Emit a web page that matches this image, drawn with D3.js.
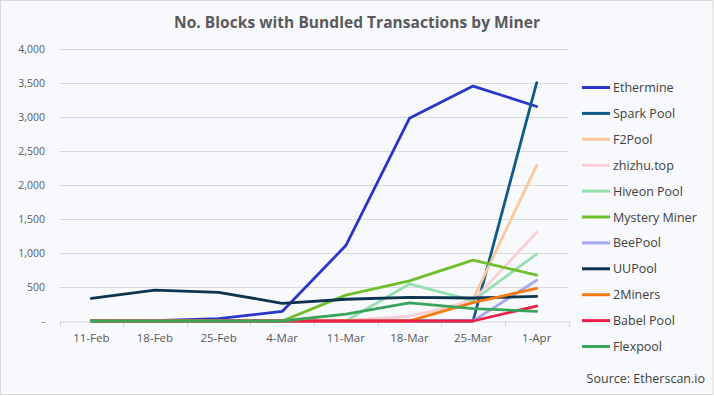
<!DOCTYPE html>
<html>
<head>
<meta charset="utf-8">
<script src="https://cdn.jsdelivr.net/npm/d3@7"></script>
<style>
  body { margin: 0; background: #fff; }
  svg text { font-family: "Open Sans", "Noto Sans", sans-serif; }
</style>
</head>
<body>
<div id="chart"></div>
<script>
// categories (weeks)
var weeks = ["11-Feb", "18-Feb", "25-Feb", "4-Mar", "11-Mar", "18-Mar", "25-Mar", "1-Apr"];

// series values
var ethermine    = [0, 5, 35, 140, 1110, 2980, 3455, 3155];
var sparkPool    = [0, 0, 0, 0, 0, 0, 0, 3505];
var f2Pool       = [0, 0, 0, 0, 0, 0, 320, 2290];
var zhizhu       = [0, 0, 0, 0, 10, 70, 300, 1305];
var hiveonPool   = [0, 0, 0, 0, 0, 545, 300, 985];
var mysteryMiner = [0, 0, 0, 0, 380, 590, 895, 675];
var beePool      = [0, 5, 0, 0, 0, 0, 0, 600];
var uuPool       = [333, 455, 422, 260, 320, 348, 338, 362];
var twoMiners    = [0, 0, 0, 0, 0, 0, 270, 480];
var babelPool    = [0, 0, 0, 0, 0, 0, 0, 220];
var flexpool     = [0, 0, 0, 0, 100, 265, 182, 142];

var yTicks = [0, 500, 1000, 1500, 2000, 2500, 3000, 3500, 4000];

var series = [
  {name: "Ethermine",     values: ethermine,    color: "#2b36c8"},
  {name: "Spark Pool",    values: sparkPool,    color: "#0e5a89"},
  {name: "F2Pool",        values: f2Pool,       color: "#fcc89b"},
  {name: "zhizhu.top",    values: zhizhu,       color: "#fccfd7"},
  {name: "Hiveon Pool",   values: hiveonPool,   color: "#96dfb0"},
  {name: "Mystery Miner", values: mysteryMiner, color: "#6fbf2b"},
  {name: "BeePool",       values: beePool,      color: "#a3a9ec"},
  {name: "UUPool",        values: uuPool,       color: "#0d3350"},
  {name: "2Miners",       values: twoMiners,    color: "#f57b12"},
  {name: "Babel Pool",    values: babelPool,    color: "#ee1f46"},
  {name: "Flexpool",      values: flexpool,     color: "#3ba45b"}
];

var W = 714, H = 396;
var plot = {left: 59.5, right: 568.5, top: 49, bottom: 321};

var svg = d3.select("#chart").append("svg")
  .attr("width", W)
  .attr("height", H);

// background + border
svg.append("rect")
  .attr("x", 0.5).attr("y", 0.5)
  .attr("width", W - 1.5).attr("height", H - 2)
  .attr("fill", "#f7f9fd")
  .attr("stroke", "#d9d9d9");

// title
svg.append("text")
  .attr("x", 357).attr("y", 28)
  .attr("text-anchor", "middle")
  .attr("font-size", "15.5px")
  .attr("font-weight", "bold")
  .attr("fill", "#595959")
  .attr("textLength", 366)
  .text("No. Blocks with Bundled Transactions by Miner");

var x = d3.scaleBand()
  .domain(weeks)
  .range([plot.left, plot.right]);

var y = d3.scaleLinear()
  .domain([0, 4000])
  .range([plot.bottom, plot.top]);

// gridlines
svg.append("g")
  .selectAll("line")
  .data(yTicks.filter(function(d) { return d > 0; }))
  .enter()
  .append("line")
  .attr("x1", plot.left).attr("x2", plot.right)
  .attr("y1", function(d) { return Math.round(y(d)) + 0.5; })
  .attr("y2", function(d) { return Math.round(y(d)) + 0.5; })
  .attr("stroke", "#d9d9d9")
  .attr("stroke-width", 1);

// y axis labels (accounting style, zero shown as dash)
svg.append("g")
  .selectAll("text")
  .data(yTicks)
  .enter()
  .append("text")
  .attr("x", 45)
  .attr("y", function(d) { return y(d) + 4; })
  .attr("text-anchor", "end")
  .attr("font-size", "10.5px")
  .attr("fill", "#595959")
  .text(function(d) { return d === 0 ? "-" : d3.format(",")(d); });

// x axis
var xAxis = svg.append("g")
  .attr("transform", "translate(0," + (Math.round(plot.bottom) + 0.5) + ")")
  .call(d3.axisBottom(x).tickSize(0).tickPadding(12));
xAxis.select(".domain").attr("stroke", "#d9d9d9");
xAxis.selectAll("text")
  .attr("font-size", "11.5px")
  .attr("fill", "#595959")
  .attr("font-family", "\"Open Sans\", sans-serif");

// category tick marks on the band edges
svg.append("g")
  .selectAll("line")
  .data(weeks.concat(["end"]))
  .enter()
  .append("line")
  .attr("x1", function(d, i) { return Math.round(plot.left + i * x.step()) + 0.5; })
  .attr("x2", function(d, i) { return Math.round(plot.left + i * x.step()) + 0.5; })
  .attr("y1", plot.bottom)
  .attr("y2", plot.bottom + 6)
  .attr("stroke", "#d9d9d9");

// lines
var line = d3.line()
  .x(function(d, i) { return x(weeks[i]) + x.bandwidth() / 2; })
  .y(function(d) { return y(d); });

svg.append("g")
  .selectAll("path")
  .data(series)
  .enter()
  .append("path")
  .attr("d", function(d) { return line(d.values); })
  .attr("fill", "none")
  .attr("stroke", function(d) { return d.color; })
  .attr("stroke-width", 2.8)
  .attr("stroke-linejoin", "round")
  .attr("stroke-linecap", "round");

// legend
var legend = svg.append("g")
  .selectAll("g")
  .data(series)
  .enter()
  .append("g")
  .attr("transform", function(d, i) { return "translate(582," + (87.5 + i * 25.9) + ")"; });

legend.append("line")
  .attr("x1", 0).attr("x2", 28)
  .attr("y1", 0).attr("y2", 0)
  .attr("stroke", function(d) { return d.color; })
  .attr("stroke-width", 3);

legend.append("text")
  .attr("x", 31)
  .attr("y", 4.5)
  .attr("font-size", "12.5px")
  .attr("fill", "#404040")
  .text(function(d) { return d.name; });

// source note
svg.append("text")
  .attr("x", 705).attr("y", 383)
  .attr("text-anchor", "end")
  .attr("font-size", "12.5px")
  .attr("fill", "#404040")
  .text("Source: Etherscan.io");
</script>
</body>
</html>
